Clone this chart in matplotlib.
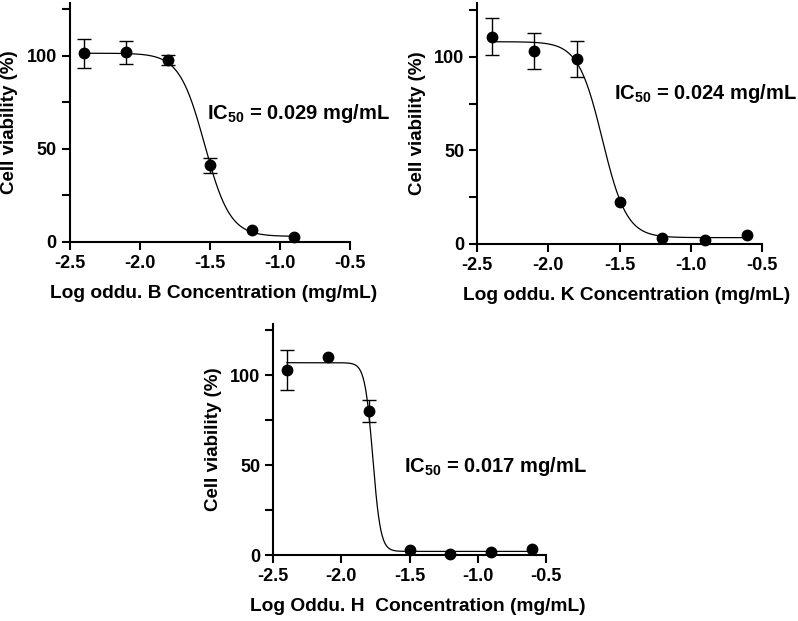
import numpy as np
import matplotlib
matplotlib.use("Agg")
import matplotlib.pyplot as plt
from matplotlib.ticker import MultipleLocator, FormatStrFormatter

plt.rcParams['font.family'] = ['Liberation Sans', 'DejaVu Sans']
plt.rcParams['font.weight'] = 'bold'
plt.rcParams['axes.unicode_minus'] = False
plt.rcParams['mathtext.fontset'] = 'custom'
plt.rcParams['mathtext.rm'] = 'Liberation Sans:bold'
plt.rcParams['mathtext.bf'] = 'Liberation Sans:bold'

# log concentration (mg/mL)
log_conc_b = [-2.4, -2.1, -1.8, -1.5, -1.2, -0.9]
log_conc_k = [-2.4, -2.1, -1.8, -1.5, -1.2, -0.9, -0.6]
log_conc_h = [-2.4, -2.1, -1.8, -1.5, -1.2, -0.9, -0.6]

# cell viability (%) and error
viab_b = [101.5, 102.0, 97.7, 41.2, 6.5, 2.7]
err_b = [7.8, 6.3, 2.7, 4.0, 0.0, 0.0]
viab_k = [110.7, 103.0, 98.9, 22.4, 3.2, 2.1, 5.0]
err_k = [10.0, 9.7, 9.5, 0.0, 0.0, 0.0, 0.0]
viab_h = [103.0, 110.2, 80.3, 2.6, 0.4, 1.5, 3.3]
err_h = [11.0, 0.0, 6.2, 0.0, 0.0, 0.0, 0.0]

# fitted 4PL curve params: top, bottom, logIC50, hill
fit_b = (101.5, 3.0, -1.538, 4.8)
fit_k = (108.0, 3.4, -1.62, 5.1)
fit_h = (107.0, 2.0, -1.77, 15.0)

ic50_labels = ['0.029', '0.024', '0.017']
xlabels = ['Log oddu. B Concentration (mg/mL)',
           'Log oddu. K Concentration (mg/mL)',
           'Log Oddu. H  Concentration (mg/mL)']

W, H = 798, 621
fig = plt.figure(figsize=(W / 100, H / 100), dpi=100)

YTOP = 128.5
# left, bottom(px from top), width, px per y unit
boxes = [(70, 242, 280, 1.86),
         (477.3, 244, 284.4, 1.873),
         (273.3, 555, 272.4, 1.797)]
text_pos = [(-1.52, 69), (-1.537, 80.6), (-1.54, 49)]
xlabel_x = [0.514, 0.526, 0.531]


def logistic(x, top, bottom, logic50, hill):
    return bottom + (top - bottom) / (1 + 10 ** ((x - logic50) * hill))


panels = [(log_conc_b, viab_b, err_b, fit_b),
          (log_conc_k, viab_k, err_k, fit_k),
          (log_conc_h, viab_h, err_h, fit_h)]

for i, (xs, ys, es, fit) in enumerate(panels):
    left, bot, wid, sc = boxes[i]
    hgt = sc * YTOP
    ax = fig.add_axes([left / W, (H - bot) / H, wid / W, hgt / H])
    ax.set_xlim(-2.5, -0.5)
    ax.set_ylim(0, YTOP)

    xx = np.linspace(xs[0], xs[-1], 400)
    ax.plot(xx, logistic(xx, *fit), color='black', lw=0.9, zorder=2)
    # only draw error bars where there is an error
    xs_a, ys_a, es_a = np.array(xs), np.array(ys), np.array(es)
    has = es_a > 0
    ax.errorbar(xs_a[has], ys_a[has], yerr=es_a[has], fmt='none', ecolor='black',
                capsize=4.7, elinewidth=1.0, capthick=1.0, clip_on=False, zorder=3)
    ax.plot(xs, ys, 'o', color='black', ms=7.5, clip_on=False, zorder=4)

    ax.spines['top'].set_visible(False)
    ax.spines['right'].set_visible(False)
    for s in ['left', 'bottom']:
        ax.spines[s].set_linewidth(1.5)
    ax.xaxis.set_major_locator(MultipleLocator(0.5))
    ax.xaxis.set_major_formatter(FormatStrFormatter('%.1f'))
    ax.yaxis.set_major_locator(MultipleLocator(50))
    ax.yaxis.set_minor_locator(MultipleLocator(25))
    ax.tick_params(axis='both', which='both', width=1.5, length=6, labelsize=13)
    for lab in ax.get_xticklabels() + ax.get_yticklabels():
        lab.set_fontweight('bold')

    ax.set_xlabel(xlabels[i], fontsize=13.8, fontweight='bold', labelpad=9)
    ax.xaxis.label.set_x(xlabel_x[i])
    ax.set_ylabel('Cell viability (%)', fontsize=13.5, fontweight='bold', labelpad=6)

    tx, ty = text_pos[i]
    ax.text(tx, ty, r'IC$_{50}$ = ' + ic50_labels[i] + ' mg/mL',
            fontsize=14.5, fontweight='bold', va='center', ha='left')

fig.savefig('out.png', dpi=100)
